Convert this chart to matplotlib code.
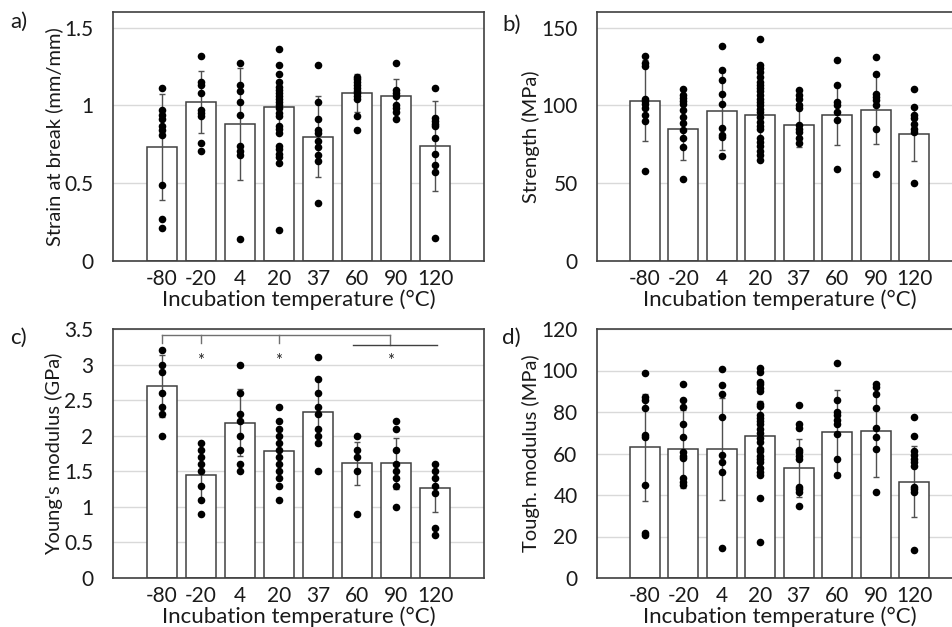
import numpy as np
import matplotlib
matplotlib.use("Agg")
import matplotlib.pyplot as plt

plt.rcParams['font.family'] = ['Lato', 'DejaVu Sans']

# temperature groups
temps = ["-80", "-20", "4", "20", "37", "60", "90", "120"]

# a) strain at break (mm/mm)
strain_mean = [0.73, 1.02, 0.88, 0.99, 0.80, 1.08, 1.06, 0.74]
strain_sd = [0.34, 0.20, 0.36, 0.17, 0.26, 0.12, 0.11, 0.29]
strain_pts = [
    [1.11, 0.97, 0.94, 0.91, 0.87, 0.84, 0.81, 0.49, 0.27, 0.21],
    [1.32, 1.15, 1.13, 1.08, 0.97, 0.95, 0.93, 0.76, 0.71],
    [1.27, 1.13, 1.09, 1.02, 0.94, 0.74, 0.71, 0.68, 0.14],
    [1.36, 1.26, 1.20, 1.15, 1.12, 1.10, 1.08, 1.06, 1.04, 1.02, 1.00, 0.98,
     0.95, 0.93, 0.87, 0.85, 0.82, 0.74, 0.72, 0.69, 0.67, 0.63, 0.20],
    [1.26, 1.02, 0.91, 0.84, 0.82, 0.77, 0.73, 0.68, 0.64, 0.37],
    [1.18, 1.17, 1.15, 1.13, 1.11, 1.09, 1.08, 1.06, 1.04, 0.93, 0.84],
    [1.27, 1.10, 1.08, 1.06, 1.00, 0.98, 0.96, 0.91],
    [1.11, 0.92, 0.90, 0.88, 0.87, 0.79, 0.69, 0.62, 0.57, 0.15],
]

# b) strength (MPa)
strength_mean = [103, 84.5, 96.6, 94, 87.3, 93.8, 97, 81.3]
strength_sd = [26, 19.5, 25, 18, 14, 19, 21.6, 17]
strength_pts = [
    [132, 127, 125, 104, 103, 101, 98, 94, 90, 58],
    [110.5, 106.5, 104.5, 103, 101, 97, 92.5, 88.5, 84, 79, 73.5, 53],
    [138, 123, 116, 107.5, 101, 85.5, 81, 79.5, 67.5],
    [142.5, 126, 124, 121.5, 118, 115, 113, 111, 109, 106.5, 104, 102, 100,
     97.5, 95.5, 92.5, 89.5, 87, 85, 79, 76.5, 74, 70.5, 68, 65],
    [110, 106.5, 104, 100, 98.5, 87.5, 85, 83, 79, 76],
    [129, 113, 102, 100, 95.5, 90.5, 59],
    [131, 120, 107.5, 105.5, 103.5, 100, 85, 56],
    [110.5, 99, 94, 92, 88, 85, 83, 50],
]

# c) Young's modulus (GPa)
modulus_mean = [2.70, 1.45, 2.18, 1.79, 2.34, 1.61, 1.61, 1.26]
modulus_sd = [0.44, 0.34, 0.47, 0.28, 0.47, 0.30, 0.36, 0.33]
modulus_pts = [
    [3.2, 3.0, 2.9, 2.6, 2.4, 2.3, 2.0],
    [1.9, 1.8, 1.7, 1.6, 1.5, 1.3, 1.1, 0.9],
    [3.0, 2.6, 2.3, 2.2, 2.0, 1.8, 1.6, 1.5],
    [2.4, 2.2, 2.1, 2.0, 1.9, 1.8, 1.7, 1.6, 1.5, 1.4, 1.3, 1.1],
    [3.1, 2.8, 2.6, 2.4, 2.3, 2.1, 2.0, 1.9, 1.5],
    [2.0, 1.8, 1.7, 1.5, 0.9],
    [2.2, 2.1, 1.8, 1.6, 1.5, 1.4, 1.3, 1.0],
    [1.6, 1.5, 1.4, 1.3, 1.2, 0.7, 0.6],
]

# d) toughness modulus (MPa)
tough_mean = [62.9, 62.2, 62.2, 68.5, 52.9, 70.6, 70.7, 46.5]
tough_sd = [26, 18.6, 24.7, 17, 14, 20, 21.8, 17]
tough_pts = [
    [99, 87, 86, 82, 69, 68, 45, 21.5, 20.6],
    [93.5, 86, 82.5, 74, 68, 60.5, 59, 58, 48, 46.5, 45],
    [100.5, 93, 88.5, 77.5, 59.5, 56, 51, 14.5],
    [101, 99.5, 94.5, 93.5, 91.5, 90, 84, 83, 78.5, 77, 75.5, 74, 72, 70,
     67.5, 65.5, 62, 61, 59, 57.5, 56, 53, 51, 49.5, 38.5, 17.5],
    [83.5, 74, 72.5, 61.5, 60.5, 59, 57.5, 44, 43, 41.5, 34.5],
    [103.5, 86, 80, 78.5, 76, 74, 69.5, 57.5, 49.5],
    [93.5, 92, 88.5, 82, 72.5, 68, 62, 41.5],
    [77.5, 68.5, 61, 59.5, 57.5, 56, 54, 44, 43, 41.5, 13.5],
]

W, H = 952, 627
fig = plt.figure(figsize=(W / 100, H / 100), dpi=100)

edge = '#404040'
txtc = '#1a1a1a'
xlab = "Incubation temperature (°C)"


def panel(rect, means, sds, pts, ymax, yticks, ticklabels, ylabel):
    l, t, r, b = rect
    ax = fig.add_axes([l / W, 1 - b / H, (r - l) / W, (b - t) / H])
    x = np.arange(len(temps))
    ax.bar(x, means, width=0.78, color='white', edgecolor=edge,
           linewidth=1.1, zorder=2)
    ax.errorbar(x, means, yerr=sds, fmt='none', ecolor='#505050',
                elinewidth=1.0, capsize=2.2, capthick=1.0, zorder=3)
    for i, vals in enumerate(pts):
        ax.scatter([x[i]] * len(vals), vals, s=30, color='black',
                   linewidths=0, zorder=4)
    ax.set_xlim(-1.25, 8.25)
    ax.set_ylim(0, ymax)
    ax.set_yticks(yticks)
    ax.set_yticklabels(ticklabels)
    ax.set_xticks(x)
    ax.set_xticklabels(temps)
    ax.yaxis.grid(True, color='#d9d9d9', linewidth=1.0, zorder=0)
    ax.set_axisbelow(True)
    ax.tick_params(length=0, labelsize=15, labelcolor=txtc)
    ax.tick_params(axis='y', pad=14)
    ax.tick_params(axis='x', pad=6)
    for s in ax.spines.values():
        s.set_color(edge)
        s.set_linewidth(1.2)
    ax.set_xlabel(xlab, fontsize=16, color=txtc, labelpad=0)
    ax.set_ylabel(ylabel, fontsize=14.5, color=txtc, labelpad=1)
    return ax


panel((113, 12, 484, 261), strain_mean, strain_sd, strain_pts, 1.6,
      [0, 0.5, 1, 1.5], ["0", "0.5", "1", "1.5"], "Strain at break (mm/mm)")
panel((597, 12, 962, 261), strength_mean, strength_sd, strength_pts, 160,
      [0, 50, 100, 150], ["0", "50", "100", "150"], "Strength (MPa)")
axc = panel((113, 329, 484, 578), modulus_mean, modulus_sd, modulus_pts, 3.5,
            np.arange(0, 3.51, 0.5),
            ["0", "0.5", "1", "1.5", "2", "2.5", "3", "3.5"],
            "Young's modulus (GPa)")
panel((597, 329, 962, 578), tough_mean, tough_sd, tough_pts, 120,
      np.arange(0, 121, 20), [str(v) for v in range(0, 121, 20)],
      "Tough. modulus (MPa)")

# significance brackets in c)
bc = '#707070'
axc.plot([0, 5.85], [3.41, 3.41], color=bc, lw=1, zorder=5)
for xs in [0, 1, 3]:
    axc.plot([xs, xs], [3.41, 3.30], color=bc, lw=1, zorder=5)
axc.plot([5.85, 5.85], [3.41, 3.27], color=bc, lw=1, zorder=5)
axc.plot([4.9, 7.05], [3.27, 3.27], color='#404040', lw=1, zorder=5)
for xs in [1, 3, 5.85]:
    axc.text(xs, 3.05, "*", ha='center', va='center', fontsize=12,
             color='#222222', zorder=5)

# panel letters
for txt, px, py in [("a)", 10, 22), ("b)", 502, 25),
                    ("c)", 10, 338), ("d)", 502, 338)]:
    fig.text(px / W, 1 - py / H, txt, fontsize=16, va='center', color=txtc)

fig.savefig("out.png", dpi=100)
